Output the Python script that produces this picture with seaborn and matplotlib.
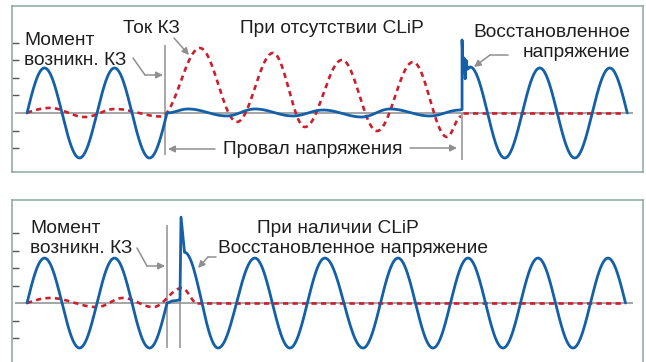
import numpy as np
import matplotlib
matplotlib.use("Agg")
import matplotlib.pyplot as plt
import seaborn as sns

# time axis in ms (50 Hz), y in tick units
# extrema of each curve, half-cosine between them
PRE_X = [-5, 5, 15, 25, 35, 45]
BLUE_PRE_Y = [-2.57, 2.57, -2.57, 2.57, -2.57, 2.57]

# panel 1 - without CLiP
B1_FAULT_X = [40, 46, 57.1, 65.1, 76, 84.6, 95.7, 103.7, 115.1, 123.7]
B1_FAULT_Y = [0, 0.23, -0.17, 0.23, -0.17, 0.17, -0.23, 0.23, -0.17, 0.17]
B1_SPIKE_X = [124.3, 124.3, 124.6, 124.9, 125.2, 125.5, 125.8]
B1_SPIKE_Y = [0.2, 4.17, 2.3, 3.14, 1.95, 3.0, 2.5]
B1_REC_X = [125.8, 126.6, 136.5, 146.5, 156.5, 166.5, 176.5]
B1_REC_Y = [2.5, 2.63, -2.57, 2.57, -2.57, 2.57, -2.57]
R1_X = [-6.5, 6.6, 16.6, 25.1, 38.3, 49.4, 60, 70.3, 79.4, 90, 100, 110.3, 120, 124.0]
R1_Y = [-0.25, 0.29, -0.23, 0.23, -0.2, 3.71, -0.51, 3.43, -0.8, 3.03, -1.03, 2.91, -1.37, -0.2]
R1_AFTER_X = [124.6, 170.5]
R1_AFTER_Y = [0, 0]

# panel 2 - with CLiP
B2_FAULT_X = [40, 41.6, 43.7]
B2_FAULT_Y = [0, 0.12, 0.17]
B2_SPIKE_X = [43.7, 44.0, 45.0]
B2_SPIKE_Y = [0.17, 4.91, 2.9]
B2_REC_X = [45.0, 54.6, 65.1, 75.1, 85.1, 96, 106, 116, 126, 136, 146, 156, 166, 176]
B2_REC_Y = [2.9, -2.57, 2.57, -2.57, 2.57, -2.57, 2.57, -2.57, 2.57, -2.57, 2.57, -2.57, 2.57, -2.57]
R2_X = [-6.6, 6.6, 20, 27.4, 36, 44.3, 48.6]
R2_Y = [-0.29, 0.29, -0.23, 0.29, -0.23, 0.86, 0]
R2_AFTER_X = [48.6, 170]
R2_AFTER_Y = [0, 0]

TICKS = [-2, -1, 1, 2, 3, 4]

BLUE = "#1460a8"
RED = "#cc1f2e"
GREY = "#8f8f8f"
FRAME = "#8aa89c"
TXT = "#1e1e1e"

sns.set_theme(style="white")
plt.rcParams["font.family"] = ["Liberation Sans", "DejaVu Sans"]

W, H = 646, 362
fig = plt.figure(figsize=(W / 100, H / 100), dpi=100)


def shape(kx, ky, t):
    kx, ky = np.asarray(kx, float), np.asarray(ky, float)
    i = np.clip(np.searchsorted(kx, t) - 1, 0, len(kx) - 2)
    s = (t - kx[i]) / (kx[i + 1] - kx[i])
    return ky[i] + (ky[i + 1] - ky[i]) * (1 - np.cos(np.pi * s)) / 2


def piece(kx, ky, x0, x1, n=200):
    t = np.linspace(x0, x1, n)
    return t, shape(kx, ky, t)


def P(px, py):
    return (px / W, 1 - py / H)


def setup(ax, top):
    ax.set_xlim(-4.29, 176)
    ax.set_ylim(-3.37, top)
    ax.set_xticks([])
    ax.set_yticks(TICKS)
    ax.set_yticklabels([])
    ax.tick_params(axis="y", direction="in", length=5, width=1, color="#555555", left=True)
    for sp in ax.spines.values():
        sp.set_color(FRAME)
        sp.set_linewidth(1.1)
    ax.hlines(0, -3.4, 173.1, color="#969696", lw=1.2, zorder=1)


def draw(ax, bx, by, rx, ry):
    sns.lineplot(x=rx, y=ry, ax=ax, color=RED, lw=1.9, estimator=None, sort=False,
                 linestyle=(0, (2, 1.6)), zorder=3)
    sns.lineplot(x=bx, y=by, ax=ax, color=BLUE, lw=2.0, estimator=None, sort=False, zorder=4)


def text(s, px, py, ha="left"):
    fig.text(*P(px, py), s, ha=ha, va="baseline", fontsize=13.8, color=TXT)


def arrow(pts):
    pts = [P(*p) for p in pts]
    if len(pts) > 2:
        xs, ys = zip(*pts[:-1])
        fig.add_artist(plt.Line2D(xs, ys, transform=fig.transFigure, color=GREY, lw=1.1))
    fig.add_artist(matplotlib.patches.FancyArrowPatch(
        pts[-2], pts[-1], transform=fig.transFigure, arrowstyle="-|>,head_length=4,head_width=2",
        color=GREY, lw=1.1, shrinkA=0, shrinkB=0))


# panel 1
ax1 = fig.add_axes([12 / W, 1 - 172 / H, 631 / W, 166 / H])
setup(ax1, 6.11)
x_pre, y_pre = piece(PRE_X, BLUE_PRE_Y, 0, 40)
x_f, y_f = piece(B1_FAULT_X, B1_FAULT_Y, 40, 123.7)
x_r, y_r = piece(B1_REC_X, B1_REC_Y, 125.8, 171.5)
bx = np.concatenate([x_pre, x_f, B1_SPIKE_X, x_r])
by = np.concatenate([y_pre, y_f, B1_SPIKE_Y, y_r])
rx1, ry1 = piece(R1_X, R1_Y, 0, 124.0, 600)
draw(ax1, bx, by, rx1, ry1)
ax1.plot(R1_AFTER_X, R1_AFTER_Y, color=RED, lw=1.9, linestyle=(0, (2, 1.6)), zorder=3)
ax1.vlines(39.5, -2.4, 3.89, color=GREY, lw=1.1, zorder=2)
ax1.vlines(124.3, -2.69, 0, color=GREY, lw=1.1, zorder=2)

# panel 2
ax2 = fig.add_axes([12 / W, 0, 631 / W, 162 / H])
setup(ax2, 5.89)
ax2.spines["bottom"].set_visible(False)
x_f2, y_f2 = piece(B2_FAULT_X, B2_FAULT_Y, 40, 43.7, 40)
x_r2, y_r2 = piece(B2_REC_X, B2_REC_Y, 45.0, 171, 600)
bx2 = np.concatenate([x_pre, x_f2, B2_SPIKE_X, x_r2])
by2 = np.concatenate([y_pre, y_f2, B2_SPIKE_Y, y_r2])
rx2, ry2 = piece(R2_X, R2_Y, 0, 48.6, 300)
draw(ax2, bx2, by2, rx2, ry2)
ax2.plot(R2_AFTER_X, R2_AFTER_Y, color=RED, lw=1.9, linestyle=(0, (2, 1.6)), zorder=3)
ax2.vlines(40.1, -2.57, 4.46, color=GREY, lw=1.1, zorder=2)
ax2.vlines(43.7, -2.57, 0.17, color=GREY, lw=1.1, zorder=2)

# annotations, panel 1
text("Момент", 24, 45)
text("возникн. КЗ", 24, 65)
text("Ток КЗ", 123, 33)
text("При отсутствии CLiP", 240, 33)
text("Восстановленное", 630, 37, ha="right")
text("напряжение", 630, 57, ha="right")
text("Провал напряжения", 223, 154)
arrow([(133, 58), (145, 75), (163, 75)])
arrow([(174, 38), (189, 55)])
arrow([(508, 55), (490, 55), (474, 67)])
arrow([(215, 149), (168, 149)])
arrow([(410, 148), (457, 148)])

# annotations, panel 2
text("Момент", 30, 233)
text("возникн. КЗ", 30, 253)
text("При наличии CLiP", 257, 233)
text("Восстановленное напряжение", 218, 253)
arrow([(137, 248), (147, 266), (165, 266)])
arrow([(216, 257), (208, 257), (198, 268)])

fig.savefig("out.png", dpi=100)
